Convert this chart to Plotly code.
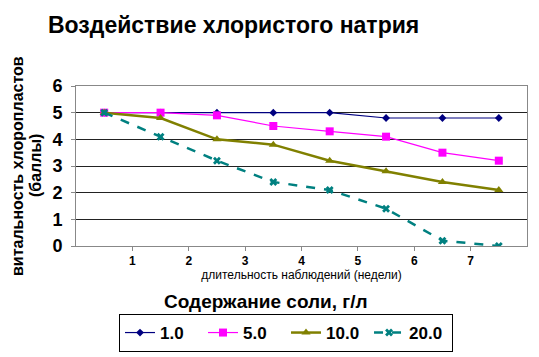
import plotly.graph_objects as go

weeks = [0.5, 1.5, 2.5, 3.5, 4.5, 5.5, 6.5, 7.5]
series_names = ["1.0", "5.0", "10.0", "20.0"]
s1 = [5.0, 5.0, 5.0, 5.0, 5.0, 4.8, 4.8, 4.8]
s5 = [5.0, 5.0, 4.9, 4.5, 4.3, 4.1, 3.5, 3.2]
s10 = [5.0, 4.8, 4.0, 3.8, 3.2, 2.8, 2.4, 2.1]
s20 = [5.0, 4.1, 3.2, 2.4, 2.1, 1.4, 0.2, 0.0]
x_ticks = [1, 2, 3, 4, 5, 6, 7]
y_ticks = [0, 1, 2, 3, 4, 5, 6]

colors = ["#000080", "#FF00FF", "#808000", "#008080"]
symbols = ["diamond", "square", "triangle-up", "x"]
widths = [1.2, 1.2, 2.5, 2.5]
dashes = ["solid", "solid", "solid", "dash"]
msizes = [6, 8, 8, 7]

fig = go.Figure()
for name, vals, c, s, w, d, ms in zip(series_names, [s1, s5, s10, s20], colors, symbols, widths, dashes, msizes):
    fig.add_trace(go.Scatter(
        x=weeks, y=vals, name=name, mode="lines+markers",
        line=dict(color=c, width=w, dash=d),
        marker=dict(symbol=s, size=ms, color=c),
    ))

L, R, T, B = 76, 12, 86, 111
PW = 539 - L - R
PH = 357 - T - B

fig.update_layout(
    width=539, height=357,
    margin=dict(l=L, r=R, t=T, b=B, autoexpand=False),
    paper_bgcolor="white", plot_bgcolor="white",
    font=dict(family="Liberation Sans, Arial, sans-serif", color="black"),
    title=dict(text="<b>Воздействие хлористого натрия</b>", x=48/539, xanchor="left",
               y=1-25/357, yanchor="middle", font=dict(size=23)),
    showlegend=True,
    legend=dict(orientation="h", x=251/539, xanchor="center", yref="container",
                y=1-314/357, yanchor="top", entrywidth=38, entrywidthmode="pixels",
                bordercolor="black", borderwidth=1, font=dict(size=17, weight="bold"),
                tracegroupgap=0),
    xaxis=dict(range=[0, 8], tickvals=x_ticks, ticktext=[str(v) for v in x_ticks],
               showgrid=False, showline=True, linecolor="#888", linewidth=1, mirror=True,
               ticks="outside", ticklen=4, tickcolor="#888", zeroline=False, automargin=False,
               tickfont=dict(size=12, weight="bold"),
               title=dict(text="длительность наблюдений (недели)", font=dict(size=12), standoff=2)),
    yaxis=dict(range=[0, 6], tickvals=y_ticks, showgrid=True, gridcolor="#222", gridwidth=1,
               showline=True, linecolor="#888", linewidth=1, mirror=True, zeroline=False,
               ticks="outside", ticklen=4, tickcolor="#888", automargin=False,
               ticklabelstandoff=5,
               tickfont=dict(size=18, weight="bold")),
)
fig.add_annotation(text="<b>витальность хлоропластов</b>", xref="paper", yref="paper",
                   x=(17-L)/PW, y=0.5, xanchor="center", yanchor="middle", textangle=-90,
                   showarrow=False, font=dict(size=16))
fig.add_annotation(text="<b>(баллы)</b>", xref="paper", yref="paper",
                   x=(35-L)/PW, y=0.5, xanchor="center", yanchor="middle", textangle=-90,
                   showarrow=False, font=dict(size=16))
fig.add_annotation(text="<b>Содержание соли, г/л</b>", xref="paper", yref="paper",
                   x=(266-L)/PW, y=-(300-245)/PH, xanchor="center", yanchor="middle",
                   showarrow=False, font=dict(size=19))

fig.write_html("out.html", post_script="document.body.style.margin='0';",
               config={"displayModeBar": False})
